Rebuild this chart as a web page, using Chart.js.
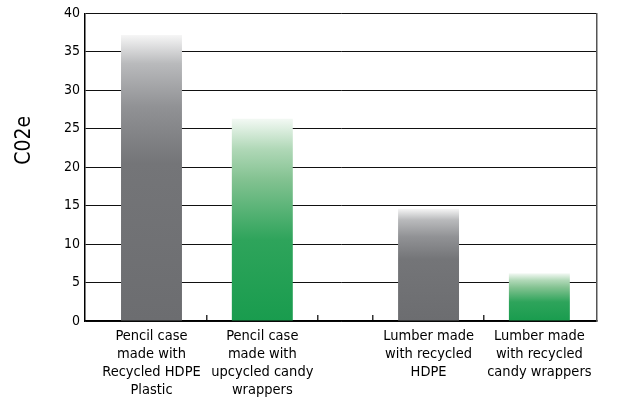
<!DOCTYPE html>
<html>
<head>
<meta charset="utf-8">
<script src="https://cdn.jsdelivr.net/npm/chart.js@4/dist/chart.umd.min.js"></script>
<style>
    html, body { margin: 0; padding: 0; background: #fff; }
    #wrap { width: 630px; height: 399px; }
</style>
</head>
<body>
<div id="wrap"><canvas id="co2Chart"></canvas></div>
<script>
const products = [
    ['Pencil case', 'made with', 'Recycled HDPE', 'Plastic'],
    ['Pencil case', 'made with', 'upcycled candy', 'wrappers'],
    ['Lumber made', 'with recycled', 'HDPE'],
    ['Lumber made', 'with recycled', 'candy wrappers']
];
const co2e = [37.2, 26.3, 14.6, 6.2];
const material = ['hdpe', 'candy', 'hdpe', 'candy'];
const yMin = 0, yMax = 40, yStep = 5;

// slot layout along x: the two pencil cases, a narrow blank slot, then the two lumbers
const slotX = [0, 1, 2.5, 3.5];
const slotEdges = [0.5, 1.5, 2, 3];
const xMin = -0.6, xMax = 4.02;

const fontFamily = '"DejaVu Sans Condensed", "DejaVu Sans", sans-serif';

const fades = {
    hdpe: [[0, '#f6f6f6'], [0.1, '#b9babc'], [0.25, '#919295'], [0.45, '#747578'], [1, '#6c6d70']],
    candy: [[0, '#f3f9f4'], [0.15, '#b0d8b7'], [0.3, '#83c291'], [0.6, '#2ea45b'], [1, '#199c4e']]
};

// vertical fade from the top of each bar down to its base
const barFill = ctx => {
    const chart = ctx.chart;
    const kind = material[ctx.dataIndex];
    const value = co2e[ctx.dataIndex];
    if (!chart.chartArea || !kind) return 'rgba(0,0,0,0)';
    const y = chart.scales.y;
    const top = y.getPixelForValue(value);
    const base = y.getPixelForValue(0);
    const g = chart.ctx.createLinearGradient(0, top, 0, base);
    fades[kind].forEach(([stop, color]) => g.addColorStop(stop, color));
    return g;
};

new Chart(document.getElementById('co2Chart'), {
    type: 'bar',
    data: {
        datasets: [{
            label: 'C02e',
            data: co2e.map((v, i) => ({ x: slotX[i], y: v })),
            backgroundColor: barFill,
            borderWidth: 0,
            barPercentage: 1.1,
            categoryPercentage: 1
        }]
    },
    options: {
        responsive: true,
        maintainAspectRatio: false,
        animation: false,
        layout: { padding: { top: 9, right: 33, bottom: 0, left: 0 } },
        plugins: {
            legend: { display: false },
            tooltip: { enabled: false }
        },
        scales: {
            x: {
                type: 'linear',
                min: xMin,
                max: xMax,
                offset: false,
                // labels under the bars, short marks on the slot edges
                afterBuildTicks: scale => {
                    scale.ticks = [...slotX, ...slotEdges].sort((a, b) => a - b).map(v => ({ value: v }));
                },
                grid: {
                    offset: false,
                    drawOnChartArea: false,
                    drawTicks: true,
                    tickLength: -6,
                    color: ctx => (ctx.tick && slotEdges.includes(ctx.tick.value)) ? '#333' : 'rgba(0,0,0,0)',
                    lineWidth: 1.5
                },
                border: { color: '#000', width: 1.5 },
                ticks: {
                    color: '#000',
                    font: { family: fontFamily, size: 14.5, lineHeight: 1.25 },
                    padding: 12,
                    maxRotation: 0,
                    autoSkip: false,
                    callback: value => {
                        const i = slotX.indexOf(value);
                        return i >= 0 ? products[i] : '';
                    }
                },
                afterFit: scale => { scale.height = 78; }
            },
            y: {
                min: yMin,
                max: yMax,
                ticks: {
                    stepSize: yStep,
                    color: '#000',
                    font: { family: fontFamily, size: 14 },
                    padding: 5
                },
                grid: { color: '#111', lineWidth: 1, drawTicks: false },
                border: { color: '#000', width: 1.5 },
                title: {
                    display: true,
                    // leading spaces lift the rotated label above the axis middle, as in the original
                    text: '         C02e',
                    color: '#000',
                    font: { family: fontFamily, size: 21, lineHeight: 1.2 },
                    padding: { top: 12, bottom: 0 }
                },
                afterFit: scale => { scale.width = 85; }
            },
            y2: {
                position: 'right',
                min: yMin,
                max: yMax,
                grid: { display: false, drawTicks: false },
                ticks: { display: false },
                border: { color: '#555', width: 1.5 },
                afterFit: scale => { scale.width = 0; }
            }
        }
    }
});
</script>
</body>
</html>
